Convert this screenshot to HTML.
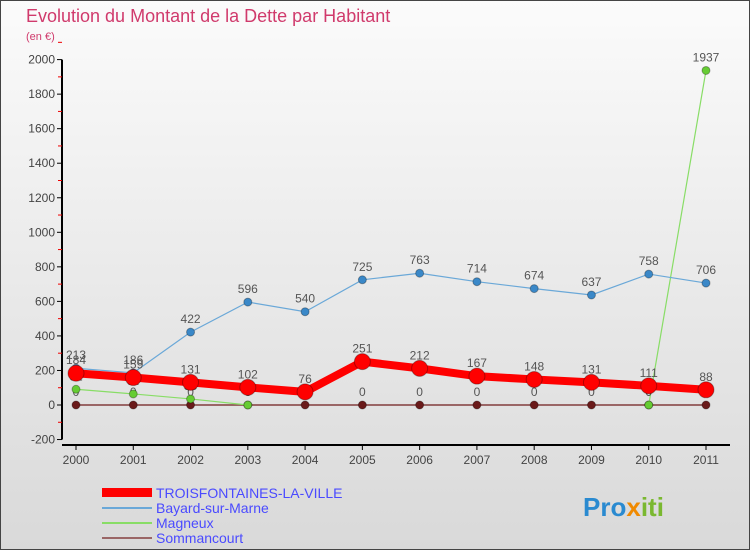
<!DOCTYPE html>
<html><head><meta charset="utf-8"><style>
body{margin:0;width:750px;height:550px;overflow:hidden;font-family:"Liberation Sans",sans-serif}
</style></head><body>
<svg width="750" height="550" xmlns="http://www.w3.org/2000/svg">
<defs><linearGradient id="bg" x1="0" y1="0" x2="0" y2="1"><stop offset="0" stop-color="#fbfbfb"/><stop offset="1" stop-color="#d9d9d9"/></linearGradient></defs>
<rect x="0.5" y="0.5" width="749" height="549" fill="url(#bg)" stroke="#444"/>
<text x="26" y="22" font-size="18" fill="#d03a6c">Evolution du Montant de la Dette par Habitant</text>
<text x="26" y="40" font-size="11" fill="#d03a6c">(en €)</text>
<g id="axes"></g><g id="series"></g>
<g font-size="14">
<rect x="102" y="488" width="50" height="9" fill="#f00"/>
<text x="156" y="498" fill="#4a4aff">TROISFONTAINES-LA-VILLE</text>
<line x1="102" y1="508" x2="152" y2="508" stroke="#6aa8d8" stroke-width="2"/>
<text x="156" y="513" fill="#4a4aff">Bayard-sur-Marne</text>
<line x1="102" y1="523" x2="152" y2="523" stroke="#88dd66" stroke-width="2"/>
<text x="156" y="528" fill="#4a4aff">Magneux</text>
<line x1="102" y1="538" x2="152" y2="538" stroke="#9a6666" stroke-width="2"/>
<text x="156" y="543" fill="#4a4aff">Sommancourt</text>
</g>
<text x="583" y="516" font-size="26" font-weight="bold" fill="#2a8ad0">Pro<tspan fill="#f08a00">x</tspan><tspan fill="#7ab830">iti</tspan></text>
</svg>
<script>
const years=[2000,2001,2002,2003,2004,2005,2006,2007,2008,2009,2010,2011];
const yTicks=[-200,0,200,400,600,800,1000,1200,1400,1600,1800,2000];
const troisfontaines=[184,159,131,102,76,251,212,167,148,131,111,88];
const bayard=[213,186,422,596,540,725,763,714,674,637,758,706];
const magneux=[91,64,35,0,null,null,null,null,null,null,0,1937];
const sommancourt=[0,0,0,0,0,0,0,0,0,0,0,0];
const NS="http://www.w3.org/2000/svg";
const xS=i=>76+i*(706-76)/11;
const yS=v=>405-v*0.1727;
function mk(tag,at,parent){const e=document.createElementNS(NS,tag);for(const k in at)e.setAttribute(k,at[k]);parent.appendChild(e);return e;}
const ax=document.getElementById('axes');
let l=mk('line',{x1:62,y1:yS(2000),x2:62,y2:yS(-200),stroke:'#000','stroke-width':2},ax);


l=mk('line',{x1:62,y1:445,x2:730,y2:445,stroke:'#000','stroke-width':2},ax);


yTicks.forEach(v=>{
 mk('line',{x1:57,y1:yS(v),x2:62,y2:yS(v),stroke:'#000'},ax);
 mk('line',{x1:58,y1:yS(v+100),x2:62,y2:yS(v+100),stroke:'#e00'},ax);
 const t=mk('text',{x:55,y:yS(v)+4,'text-anchor':'end','font-size':12,fill:'#444'},ax);t.textContent=v;
 
 
});
years.forEach((y,i)=>{
 mk('line',{x1:xS(i),y1:445,x2:xS(i),y2:450,stroke:'#000'},ax);
 const t=mk('text',{x:xS(i),y:464,'text-anchor':'middle','font-size':12,fill:'#444'},ax);t.textContent=y;
 
 
});
const sg=document.getElementById('series');
function series(name,vals,col,dot,w,r,labels){
 const g=mk('g',{},sg);
 
 
 let d='',pen=false;
 vals.forEach((v,i)=>{if(v===null){pen=false;return;}d+=(pen?'L':'M')+xS(i)+' '+yS(v)+' ';pen=true;});
 mk('path',{d:d,fill:'none',stroke:col,'stroke-width':w},g);
 vals.forEach((v,i)=>{if(v===null)return;
  const c=mk('circle',{cx:xS(i),cy:yS(v),r:r,fill:dot,stroke:'rgba(0,0,0,0.3)'},g);
  
  
  if(labels){const t=mk('text',{x:xS(i),y:yS(v)-9,'text-anchor':'middle','font-size':12,fill:'#555'},g);t.textContent=v;}
 });
}
series('series-sommancourt',sommancourt,'#9a6666','#6a1a1a',2,4,true);
series('series-magneux',magneux,'#88dd66','#66cc33',1.2,4,true);
series('series-bayard',bayard,'#6aa8d8','#3a88c8',1.2,4,true);
series('series-troisfontaines',troisfontaines,'#ff0000','#ff0000',8,8,true);
</script>
</body></html>
